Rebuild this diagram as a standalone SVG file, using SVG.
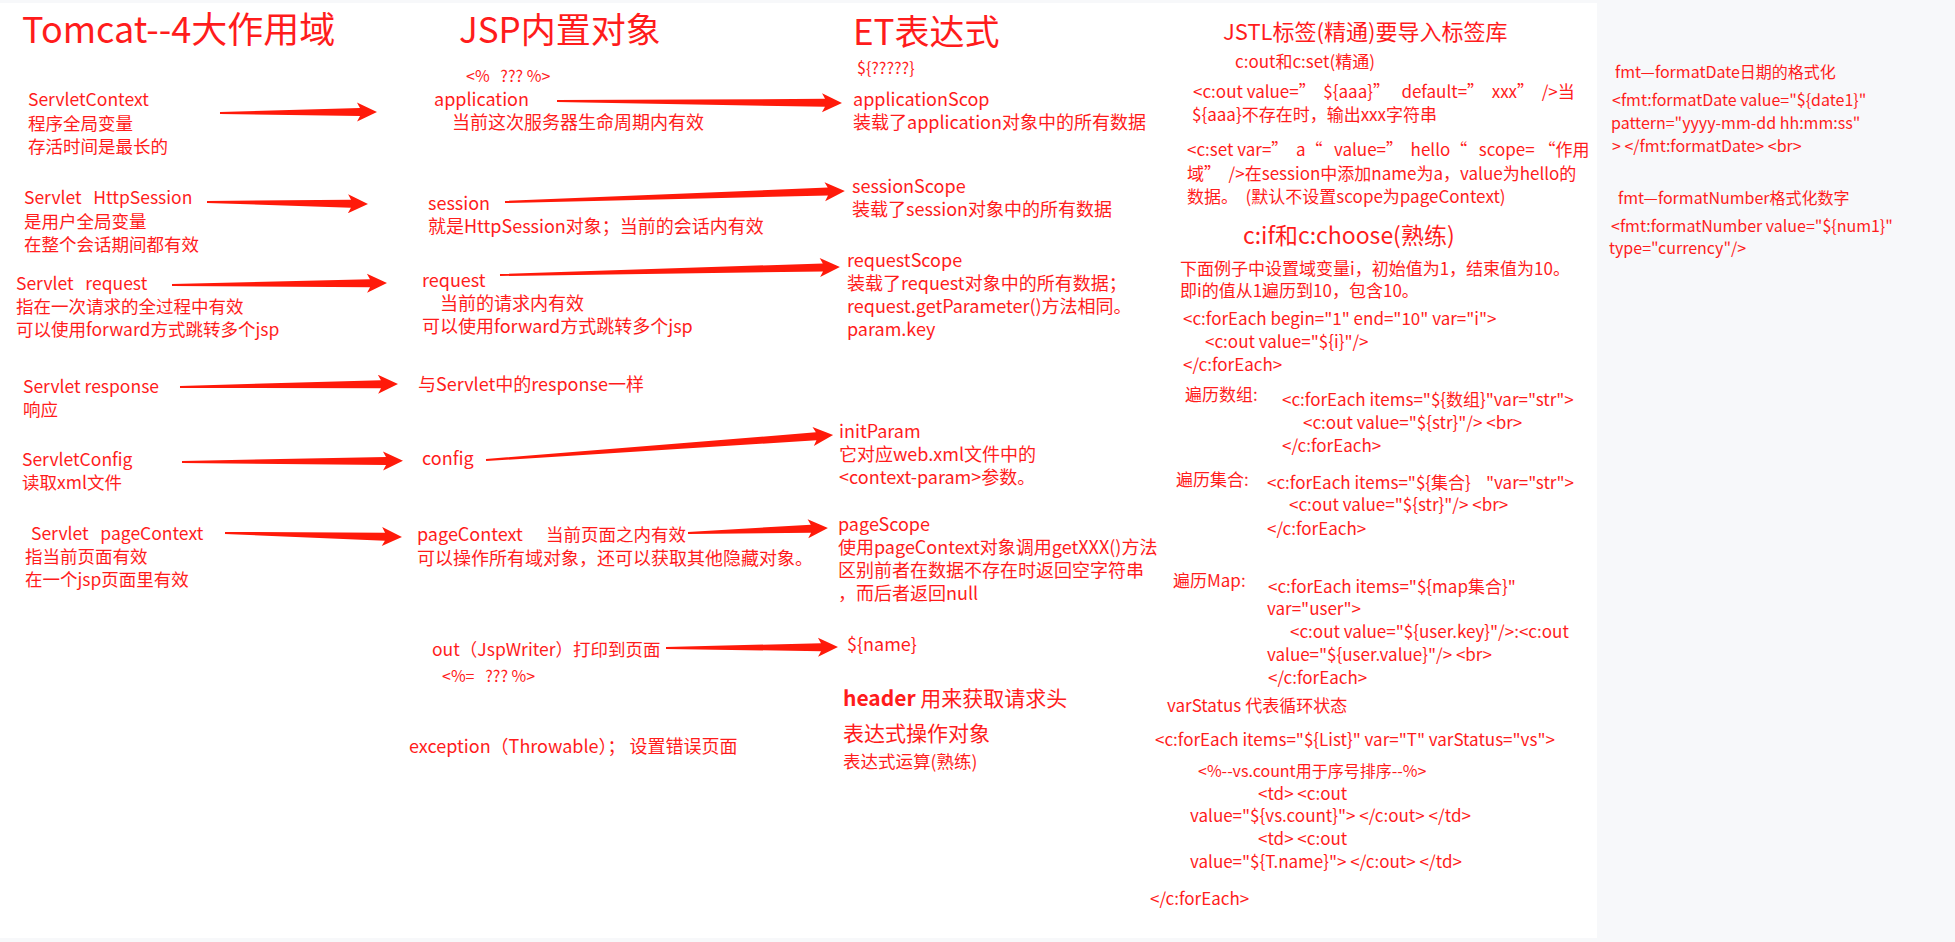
<svg xmlns="http://www.w3.org/2000/svg" width="1955" height="942" viewBox="0 0 1955 942">
<style>
text{font-family:"Noto Sans CJK SC","Microsoft YaHei",sans-serif;fill:#ff1c1c;white-space:pre}
.h1{font-size:35px}
.h2{font-size:22px}
.h3{font-size:23px}
.l{font-size:17.5px}
.m{font-size:18px}
.m2{font-size:17.5px}
.e{font-size:18px}
.j{font-size:17px}
.s{font-size:16px}
.b{font-size:21px}
.arr{fill:#ff1a0a}
</style>
<rect x="0" y="0" width="1955" height="942" fill="#f7f8fa"/>
<rect x="0" y="3" width="1597" height="935" fill="#ffffff"/>

<g id="connectors">
<path class="arr" transform="translate(220,113) rotate(-0.4)" d="M0,-1 L140,-4 L137,-9.5 L157,0 L137,9.5 L140,4 L0,1Z"/>
<path class="arr" transform="translate(207,202) rotate(0.7)" d="M0,-1 L144,-4 L141,-9.5 L161,0 L141,9.5 L144,4 L0,1Z"/>
<path class="arr" transform="translate(172,285) rotate(-0.5)" d="M0,-1 L198,-4 L195,-9.5 L215,0 L195,9.5 L198,4 L0,1Z"/>
<path class="arr" transform="translate(180,387) rotate(-0.8)" d="M0,-1 L201,-4 L198,-9.5 L218,0 L198,9.5 L201,4 L0,1Z"/>
<path class="arr" transform="translate(182,462) rotate(-0.3)" d="M0,-1 L204,-4 L201,-9.5 L221,0 L201,9.5 L204,4 L0,1Z"/>
<path class="arr" transform="translate(225,533) rotate(1.3)" d="M0,-1 L160,-4 L157,-9.5 L177,0 L157,9.5 L160,4 L0,1Z"/>
<path class="arr" transform="translate(557,101) rotate(0.4)" d="M0,-1 L268,-4 L265,-9.5 L285,0 L265,9.5 L268,4 L0,1Z"/>
<path class="arr" transform="translate(505,202) rotate(-1.85)" d="M0,-1 L323,-4 L320,-9.5 L340,0 L320,9.5 L323,4 L0,1Z"/>
<path class="arr" transform="translate(500,275) rotate(-1.35)" d="M0,-1 L323,-4 L320,-9.5 L340,0 L320,9.5 L323,4 L0,1Z"/>
<path class="arr" transform="translate(486,460) rotate(-4.1)" d="M0,-1 L331,-4 L328,-9.5 L348,0 L328,9.5 L331,4 L0,1Z"/>
<path class="arr" transform="translate(688,533) rotate(-2.0)" d="M0,-1 L123,-4 L120,-9.5 L140,0 L120,9.5 L123,4 L0,1Z"/>
<path class="arr" transform="translate(666,648) rotate(-0.3)" d="M0,-1 L155,-4 L152,-9.5 L172,0 L152,9.5 L155,4 L0,1Z"/>
</g>

<g id="title-tomcat"><text class="h1" x="22" y="43" style="font-size:36px">Tomcat--4大作用域</text></g>
<g id="servletcontext">
<text class="l" x="28" y="106">ServletContext</text>
<text class="l" x="28" y="130">程序全局变量</text>
<text class="l" x="28" y="153">存活时间是最长的</text>
</g>
<g id="httpsession">
<text class="l" x="24" y="204">Servlet   HttpSession</text>
<text class="l" x="24" y="228">是用户全局变量</text>
<text class="l" x="24" y="251">在整个会话期间都有效</text>
</g>
<g id="servletrequest">
<text class="l" x="16" y="290">Servlet   request</text>
<text class="l" x="16" y="313">指在一次请求的全过程中有效</text>
<text class="l" x="16" y="336">可以使用forward方式跳转多个jsp</text>
</g>
<g id="servletresponse">
<text class="l" x="23" y="393">Servlet response</text>
<text class="l" x="23" y="416">响应</text>
</g>
<g id="servletconfig">
<text class="l" x="22" y="466">ServletConfig</text>
<text class="l" x="22" y="489">读取xml文件</text>
</g>
<g id="servletpagecontext">
<text class="l" x="31" y="540">Servlet   pageContext</text>
<text class="l" x="25" y="563">指当前页面有效</text>
<text class="l" x="25" y="586">在一个jsp页面里有效</text>
</g>

<g id="title-jsp"><text class="h1" x="459" y="43">JSP内置对象</text></g>
<g id="application">
<text class="s" x="466" y="82">&lt;%   ??? %&gt;</text>
<text class="m" x="434" y="106">application</text>
<text class="m" x="452" y="129">当前这次服务器生命周期内有效</text>
</g>
<g id="session">
<text class="m" x="428" y="210">session</text>
<text class="m" x="428" y="233">就是HttpSession对象；当前的会话内有效</text>
</g>
<g id="request">
<text class="m" x="422" y="287">request</text>
<text class="m" x="440" y="310">当前的请求内有效</text>
<text class="m" x="422" y="333">可以使用forward方式跳转多个jsp</text>
</g>
<g id="response"><text class="m" x="418" y="391">与Servlet中的response一样</text></g>
<g id="config"><text class="m" x="422" y="465">config</text></g>
<g id="pagecontext">
<text class="m" x="417" y="541">pageContext<tspan x="546" class="m2">当前页面之内有效</tspan></text>
<text class="m" x="417" y="565">可以操作所有域对象，还可以获取其他隐藏对象。</text>
</g>
<g id="out">
<text class="m2" x="432" y="656">out（JspWriter）打印到页面</text>
<text class="s" x="442" y="682">&lt;%=   ??? %&gt;</text>
</g>
<g id="exception"><text class="m" x="409" y="753">exception（Throwable）； 设置错误页面</text></g>

<g id="title-et">
<text class="h1" x="853" y="45">ET表达式</text>
<text class="s" x="857" y="74">${?????}</text>
</g>
<g id="applicationscope">
<text class="e" x="853" y="106">applicationScop</text>
<text class="e" x="853" y="129">装载了application对象中的所有数据</text>
</g>
<g id="sessionscope">
<text class="e" x="852" y="193">sessionScope</text>
<text class="e" x="852" y="216">装载了session对象中的所有数据</text>
</g>
<g id="requestscope">
<text class="e" x="847" y="267">requestScope</text>
<text class="e" x="847" y="290">装载了request对象中的所有数据；</text>
<text class="e" x="847" y="313">request.getParameter()方法相同。</text>
<text class="e" x="847" y="336">param.key</text>
</g>
<g id="initparam">
<text class="e" x="839" y="438">initParam</text>
<text class="e" x="839" y="461">它对应web.xml文件中的</text>
<text class="e" x="839" y="484">&lt;context-param&gt;参数。</text>
</g>
<g id="pagescope">
<text class="e" x="838" y="531">pageScope</text>
<text class="e" x="838" y="554">使用pageContext对象调用getXXX()方法</text>
<text class="e" x="838" y="577">区别前者在数据不存在时返回空字符串</text>
<text class="e" x="838" y="600">，而后者返回null</text>
</g>
<g id="name"><text class="e" x="847" y="651">${name}</text></g>
<g id="header">
<text class="b" x="843" y="706"><tspan font-weight="bold">header</tspan> 用来获取请求头</text>
<text class="b" x="843" y="741">表达式操作对象</text>
<text class="l" x="843" y="768">表达式运算(熟练)</text>
</g>

<g id="jstl">
<text class="h2" x="1223" y="40">JSTL标签(精通)要导入标签库</text>
<text class="j" x="1235" y="68">c:out和c:set(精通)</text>
<text class="j" x="1193" y="98">&lt;c:out value=”  ${aaa}”   default=”  xxx”  /&gt;当</text>
<text class="j" x="1192" y="121">${aaa}不存在时，输出xxx字符串</text>
<text class="j" x="1187" y="156">&lt;c:set var=”  a“   value=”  hello“   scope= “作用</text>
<text class="j" x="1187" y="180">域”  /&gt;在session中添加name为a，value为hello的</text>
<text class="j" x="1187" y="203">数据。  (默认不设置scope为pageContext)</text>
</g>
<g id="cif">
<text class="h3" x="1243" y="244">c:if和c:choose(熟练)</text>
<text class="j" x="1180" y="275">下面例子中设置域变量i，初始值为1，结束值为10。</text>
<text class="j" x="1180" y="297">即i的值从1遍历到10，包含10。</text>
<text class="j" x="1183" y="325">&lt;c:forEach begin="1" end="10" var="i"&gt;</text>
<text class="j" x="1205" y="348">&lt;c:out value="${i}"/&gt;</text>
<text class="j" x="1183" y="371">&lt;/c:forEach&gt;</text>
</g>
<g id="array">
<text class="j" x="1185" y="401">遍历数组:</text>
<text class="j" x="1282" y="406">&lt;c:forEach items="${数组}"var="str"&gt;</text>
<text class="j" x="1303" y="429">&lt;c:out value="${str}"/&gt; &lt;br&gt;</text>
<text class="j" x="1282" y="452">&lt;/c:forEach&gt;</text>
</g>
<g id="collection">
<text class="j" x="1176" y="486">遍历集合:</text>
<text class="j" x="1267" y="489">&lt;c:forEach items="${集合}    "var="str"&gt;</text>
<text class="j" x="1289" y="511">&lt;c:out value="${str}"/&gt; &lt;br&gt;</text>
<text class="j" x="1267" y="535">&lt;/c:forEach&gt;</text>
</g>
<g id="map">
<text class="j" x="1173" y="587">遍历Map:</text>
<text class="j" x="1268" y="593">&lt;c:forEach items="${map集合}"</text>
<text class="j" x="1267" y="615">var="user"&gt;</text>
<text class="j" x="1290" y="638">&lt;c:out value="${user.key}"/&gt;:&lt;c:out</text>
<text class="j" x="1267" y="661">value="${user.value}"/&gt; &lt;br&gt;</text>
<text class="j" x="1268" y="684">&lt;/c:forEach&gt;</text>
</g>
<g id="varstatus">
<text class="j" x="1167" y="712">varStatus 代表循环状态</text>
<text class="j" x="1155" y="746">&lt;c:forEach items="${List}" var="T" varStatus="vs"&gt;</text>
<text class="s" x="1198" y="777">&lt;%--vs.count用于序号排序--%&gt;</text>
<text class="j" x="1258" y="800">&lt;td&gt; &lt;c:out</text>
<text class="j" x="1190" y="822">value="${vs.count}"&gt; &lt;/c:out&gt; &lt;/td&gt;</text>
<text class="j" x="1258" y="845">&lt;td&gt; &lt;c:out</text>
<text class="j" x="1190" y="868">value="${T.name}"&gt; &lt;/c:out&gt; &lt;/td&gt;</text>
<text class="j" x="1150" y="905">&lt;/c:forEach&gt;</text>
</g>

<g id="fmtdate">
<text class="s" x="1615" y="78">fmt—formatDate日期的格式化</text>
<text class="s" x="1612" y="106">&lt;fmt:formatDate value="${date1}"</text>
<text class="s" x="1611" y="129">pattern="yyyy-mm-dd hh:mm:ss"</text>
<text class="s" x="1612" y="152">&gt; &lt;/fmt:formatDate&gt; &lt;br&gt;</text>
</g>
<g id="fmtnumber">
<text class="s" x="1618" y="204">fmt—formatNumber格式化数字</text>
<text class="s" x="1611" y="232">&lt;fmt:formatNumber value="${num1}"</text>
<text class="s" x="1609" y="254">type="currency"/&gt;</text>
</g>
</svg>
